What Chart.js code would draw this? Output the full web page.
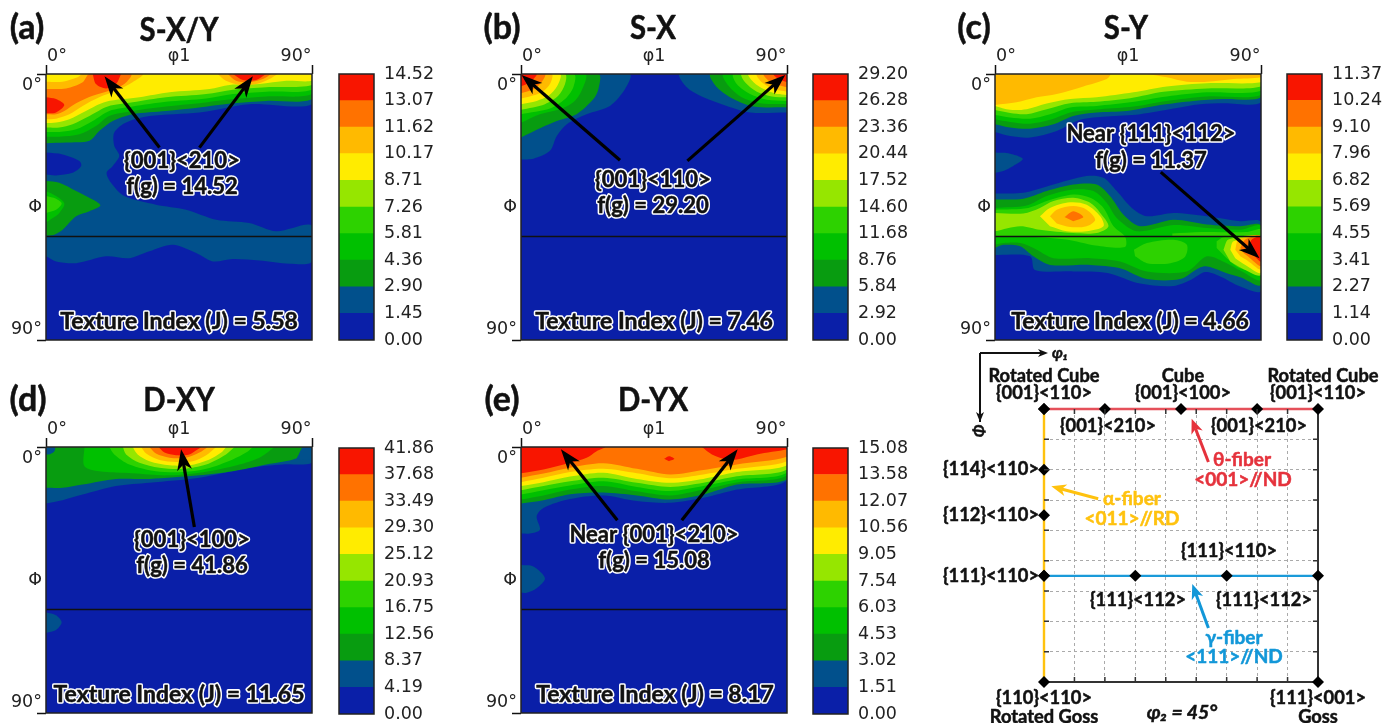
<!DOCTYPE html>
<html><head><meta charset="utf-8">
<style>html,body{margin:0;padding:0;background:#fff}body{filter:blur(0.35px);width:1392px;height:723px;overflow:hidden;position:relative}canvas{position:absolute;left:0;top:0;pointer-events:none}</style>
<script src="https://cdn.jsdelivr.net/npm/chart.js@4"></script>
</head><body>
<script>
const bandColors=['#0a1fa8','#01508c','#089c10','#00c000','#2dd200','#96e600','#ffec00','#ffba00','#ff7200','#f81500'];
const levelsA=[0,1.45,2.90,4.36,5.81,7.26,8.71,10.17,11.62,13.07,14.52];
const levelsB=[0,2.92,5.84,8.76,11.68,14.60,17.52,20.44,23.36,26.28,29.20];
const levelsC=[0,1.14,2.27,3.41,4.55,5.69,6.82,7.96,9.10,10.24,11.37];
const levelsD=[0,4.19,8.37,12.56,16.75,20.93,25.12,29.30,33.49,37.68,41.86];
const levelsE=[0,1.51,3.02,4.53,6.03,7.54,9.05,10.56,12.07,13.58,15.08];
const TOP=[0,0,90,0];
// contour regions: [band, phi1, PHI, phi1, PHI, ...]
const contoursA=[
[0,0,0,90,0,90,90,0,90],
[1,...TOP,90,10.2,68.8,10.2,51.9,13,35,14.2,27.1,16.4,23.1,19.8,23.1,24.3,24.8,27.7,22.6,31.1,20.5,33.4,22,36.8,26.5,41.3,37.2,44.2,47.4,45.9,57.6,49.3,68.8,50.4,77.9,53.2,90,51.3,90,63.4,82.4,64.2,72.2,63.1,63.2,62.6,56.4,63.4,50.8,60.6,42.9,57.8,35,60,28.2,62.3,20.3,61.7,10.2,64,3.4,63.4,0,61.7],
[0,0,26.6,5.6,27.2,11.3,29.4,11.9,31.1,9,33.4,3.4,34.3,0,34],
[2,0,36.2,4.5,36.8,10.2,39.6,15.8,42.5,18.4,44.5,14.7,46.4,10.2,48.1,5.6,52.7,2.8,54.4,0,54.7],
[3,0,39.6,3.4,41.3,6.2,43.8,4.5,47,2.3,48.7,0,50.2],
[4,0,41.3,3.4,42.2,5.3,43.8,3.4,45.9,0,47],
[2,...TOP,90,8.5,74.5,9.1,63.2,9.9,51.9,11.3,40.6,12.5,29.3,13.6,22.6,15.9,18,19.3,14.7,22.6,6.8,23.2,0,23.4],
[3,...TOP,90,6.8,74.5,7.6,63.2,8.5,51.9,9.9,40.6,11,29.3,12.5,21.4,14.2,16.9,17.6,11.3,20.4,4.5,21.2,0,21.2],
[4,...TOP,90,5.3,74.5,6,63.2,6.8,54.2,8.3,40.6,9.4,29.3,11,21.4,12.5,15.8,15.9,10.2,18.7,4.5,19.6,0,19.6],
[5,...TOP,90,3.7,74.5,4.5,63.2,5.3,54.2,6.8,40.6,7.9,29.3,9.6,20.9,11,14.7,14.2,9,17,4.5,18.1,0,18.1],
[6,...TOP,90,2.3,81.3,2.3,72.2,3.4,62.1,3.7,55.3,5.1,41.8,6.2,31.6,7.9,20.3,9.4,13.5,12.5,7.9,15.3,3.4,16.4,0,16.6],
[7,0,2.6,5.6,2.6,10.7,1.1,12.4,0,32.7,0,29.3,2.8,23.7,5.7,18,7.9,12.4,10.8,7.9,13.6,3.4,15.1,0,15.3],
[7,58.1,0,60.9,2.3,65.5,3.7,71.1,3.4,75.6,1.7,78.4,0],
[8,0,5.1,6.8,4.9,12.4,2.8,14.7,0,28.8,0,26.5,3.4,21.4,5.7,15.8,7.4,10.2,9.9,6.2,12.5,3.4,13.6,0,13.6],
[8,61.5,0,64.3,2.3,68.8,2.8,73.4,1.7,76.2,0],
[9,15.8,0,16.9,3.4,20.3,4.9,23.7,3.4,25.4,0],
[9,0,7.9,3.4,8.5,6.2,10.5,3.4,13,0,13.3],
[9,63.2,0,66.6,2,71.1,2,74.5,0]];
const contoursB=[
[0,0,0,90,0,90,90,0,90],
[1,0,0,36.7,0,35.2,5.1,30.1,10.8,22.2,13.6,15.5,17,12.1,21,9.8,26,4.2,28.7,0,28.9],
[2,0,0,26.2,0,26.2,5.1,24.5,8.5,18.8,13.6,12.1,15.9,7,18.1,0,21.5],
[3,0,0,21.7,0,20.5,5.7,17.7,9.6,13.2,11.9,6.4,13.6,0,16.5],
[4,0,0,17.9,0,17.7,4.5,14.9,8.5,9.8,11.7,0,13.6],
[5,0,0,14.9,0,14.9,3.4,12.6,7.4,8.1,10.2,0,12.1],
[6,0,0,13.2,0,12.3,4,9.3,7.4,5.3,9.1,0,10.2],
[7,0,0,10.4,0,9.8,3.4,7,6.2,3,7.6,0,8.3],
[8,0,0,8.1,0,7.3,2.3,4.7,4.9,0,6.5],
[9,0,0,5.3,0,4.2,1.7,1.9,3.4,0,4.2],
[1,90,0,53.8,0,56.1,4.5,61.7,7.9,69.6,10.8,77.5,13,90,13],
[2,90,0,64.2,0,66.3,4.5,71.9,8.5,78.7,11,90,11.3],
[3,90,0,68.5,0,70.2,4,74.7,7.9,80.9,9.9,90,10.2],
[4,90,0,71.9,0,73,3.4,77.5,6.8,83.2,8.7,90,9.1],
[5,90,0,74.7,0,75.8,2.8,79.8,6,84.9,7.6,90,7.9],
[6,90,0,77,0,78.7,2.8,82.1,5.1,86.6,6.8,90,7.1],
[7,90,0,79.8,0,81.5,2.8,85.4,5.1,90,6],
[8,90,0,82.1,0,84.3,2.6,90,4.5],
[9,90,0,85.4,0,87.1,1.7,90,2.8]];
const contoursC=[
[0,0,0,90,0,90,90,0,90],
[1,...TOP,90,9.6,77.3,9.9,69.4,10.2,60.4,11.7,49.1,13.6,37.8,14.4,28.8,15.5,20.9,19.3,11.9,21.5,5.1,21,0,19.6],
[1,0,26.6,4.5,26.8,9.4,28.7,6.2,31.1,2.8,32.8,0,33.4],
[2,...TOP,90,7.9,77.3,8.5,67.2,9.1,55.9,10.5,44.6,12.5,34.4,13,26.5,14.2,19.8,17,11.9,18.5,5.1,18.1,0,17],
[3,...TOP,90,7.1,71.7,7.6,58.1,9.1,46.8,11,35.6,11.9,26.5,12.8,18.6,15.5,11.9,16.8,5.1,16.2,0,15.3],
[4,...TOP,90,5.7,71.7,6.2,58.1,7.6,45.7,9.6,34.4,10.8,25.4,11.3,18.6,13.6,11.9,15.1,5.1,14.7,0,13.9],
[5,...TOP,90,4.2,71.7,4.9,57,6,45.7,8.2,34.4,9.4,25.4,9.9,17.5,11.9,10.7,13.6,5.1,13.2,0,12.2],
[6,...TOP,90,2.8,71.7,3.1,58.1,4.2,46.8,6.2,34.4,7.9,25.4,8.5,17.5,10,10.7,11.9,5.1,12.1,0,10.8],
[7,0,0,38.9,0,37.8,1.7,29.9,4.2,20.9,6.8,14.1,7.9,7.3,9.6,0,10.5],
[7,51.4,0,58.1,1.1,64.9,2.6,71.7,2.6,80.7,1.7,90,1.1,90,0],
[1,0,40.4,9.6,40.2,18.6,37.7,31,34.5,36.7,35.1,41.2,39.6,46.3,45.3,51.4,48.1,60.4,47,71.7,48.1,83,49.8,90,50.2,90,73.3,83,71.9,76.2,68.5,71.2,67,66.5,69.5,60.4,71.7,49.1,70.9,38.1,67.3,26.5,66.8,13.5,66.3,11.9,61.7,0,61.2],
[2,0,42.5,9.6,42.2,17.5,39.6,26.5,37.4,34.4,37.4,38.9,41.3,43.5,47.6,49.1,51.5,60.4,49.3,71.7,50.9,83,51.5,90,51.3,90,71.3,83,68.8,78.4,67.4,70.5,65.1,62.6,69.4,51.4,69.4,42.3,65.7,32.2,64.6,18.6,64.6,13,61.7,8.5,58.3,2.8,57.8,0,58.9],
[3,0,45.3,10.7,44.5,17.5,41.3,26.5,39.1,33.3,39.6,37.8,43.6,41.2,48.7,48,53.2,60.4,51.1,71.7,52.1,83,52.7,90,51.5,90,69.6,83,66.5,78.4,64,71.7,61.7,64.9,66.8,51.4,66.8,42.3,63.4,32.2,62.3,19.8,62.3,13,58.9,8.5,57.2,2.8,57.2,0,57.8],
[4,0,45.9,11.3,45.3,17.5,43,26.5,40.8,32.2,41.9,36.7,45.3,40.1,51.5,44,55,44,58.5,34,58,24,56,10,55,0,55],
[4,47,59.5,51.4,57.2,60.4,56.1,64.9,57.8,64.3,61.8,59.3,64,51.4,64,47.4,61.7],
[4,60,54,70,53.5,85,53.5,90,52.5,90,55,60,55],
[4,75,56.6,77.3,55.2,90,54.4,90,66.5,83,65.7,78.4,62.3,75,58.9],
[5,0,47,9.6,47.2,15.2,45.3,19.8,43,26.5,41.9,32.2,43.6,35.6,47,38.4,51.5,34.4,53.8,26.5,53.8,15.2,52.7,8.5,51.5,0,53.2],
[6,15.2,48.1,18.6,45.3,25.4,43.4,31,44.2,35.6,48.1,36.7,51.5,31,53.2,24.3,53.2,18.6,51.5],
[7,18.6,48.1,20.9,45.9,26.5,44.7,31,45.9,33.9,49.3,31,51.5,25.4,51.8,20.9,50.6],
[8,23.5,48.4,26.5,46.4,29.9,48.4,26.5,49.8],
[5,77.3,59.5,79,56,90,55.2,90,68,83.5,65.7,79.6,63.4],
[6,79.6,59.5,80.7,56.6,90,55,90,67.2,84.7,64.6,81.3,62.3],
[7,81.3,59.5,82.4,56,90,55,90,66,85.8,63.4,83,61.7],
[8,83,58.9,84.7,56,90,55,90,64.9,86.3,62.3,84.1,60.6],
[9,85.8,58.9,86.9,56,90,55.2,90,63.4,87.5,61.2]];
const contoursD=[
[0,0,0,90,0,90,90,0,90],
[1,...TOP,90,5.3,80.1,5.9,68.8,7,51.9,10.4,35,12.1,23.7,13.2,12.4,16.1,5.6,18,0,19.1],
[1,0,56,3.4,56.9,5.3,59.3,3.4,61.9,0,62.9],
[2,...TOP,90,0,87,0,85.2,3.6,74.5,5.9,63.2,8.2,51.9,9.6,35,10.8,23.7,10.8,12.4,12.7,5.6,13.8,0,13.8],
[1,0,0,3,0,2.8,1.5,1,2.5,0,2.5],
[1,90,0,87,0,85.5,2.5,85,4,90,4.5],
[3,13,0,13,6.5,18,8.2,29.3,8.9,40.6,9.6,51.9,8.7,63.2,6.5,72.2,3.6,77.3,0],
[4,21.4,0,23.1,2.5,28.2,5.9,37.2,8.2,46.3,8.5,54.2,7.4,63.2,4.2,67.7,1.9,70,0],
[5,26,0,27.1,2.5,31.6,5.3,38.4,7,46.3,7.4,54.2,5.9,60.9,2.5,63.8,0],
[6,29.3,0,31,2.5,35,4.8,41.8,6.2,48.5,6.2,55.3,4.2,59.3,1.9,60.9,0],
[7,32.2,0,33.9,2.2,38.4,4.4,44,5.1,49.7,4.8,54.2,2.8,57.6,0],
[8,35,0,37.2,2.2,41.8,3.6,47.4,3.6,51.9,1.9,54.7,0],
[9,38.1,0,40.1,1.9,44,2.8,48.5,2.5,51.4,0.8,52.5,0]];
const contoursE=[
[0,0,0,90,0,90,90,0,90],
[1,...TOP,90,11.3,73,14.4,61.7,17.2,50.5,18.9,39.2,18.3,27.9,16.4,16.6,17.6,7.6,20.6,5.3,23.4,6.4,28,3,29.3,0,29.3],
[1,0,39.9,4.2,40.4,8.1,44.4,5.3,47.8,1.9,49.3,0,49.3],
[2,...TOP,90,10.8,73,12.7,61.7,16.1,50.5,17.8,39.2,16.4,27.9,15.4,16.6,16,7.6,18,0,19.1],
[3,...TOP,90,9.6,73,12,61.7,14.4,50.5,16.4,39.2,15,27.9,13.2,16.6,14.4,7.6,16.4,0,17.8],
[4,...TOP,90,8.7,73,11,61.7,13.2,50.5,14.9,39.2,13.5,27.9,11.6,16.6,13,7.6,14.6,0,16.1],
[5,...TOP,90,7.6,73,9.9,61.7,12.1,50.5,13.5,39.2,12.1,27.9,10.4,16.6,11.6,7.6,13.2,0,14.6],
[6,...TOP,90,6.2,73,8.5,61.7,10.8,50.5,12.1,39.2,10.8,27.9,8.7,16.6,10,7.6,11.9,0,13.2],
[7,...TOP,90,4.8,73,7.4,61.7,9.3,50.5,10.6,39.2,8.9,27.9,7.4,16.6,8.5,7.6,10.4,0,11.9],
[8,...TOP,90,3.3,73,5.9,61.7,7.8,50.5,9.3,39.2,7.4,27.9,5.5,16.6,7,7.6,9,0,10.4],
[9,0,0,28.4,0,25.6,1.4,22.2,3.6,16.6,5.3,7.6,7.6,0,8.9],
[9,61.2,0,64.6,2.5,69.6,4.2,73,4.2,79.8,2.5,90,0.8,90,0],
[9,48.4,4,50.1,3.1,51.9,4,50.1,4.8]];
const arrowsA=[[38.4,24.9,19.8,0.8],[51.9,24.9,70,0.8]];
const arrowsB=[[33.5,29.2,0.2,0.3],[56.3,29.4,89.4,0.3]];
const arrowsC=[[56.1,33.2,89.5,62.3]];
const arrowsD=[[50.2,27.1,45.7,0.8]];
const arrowsE=[[32.6,24.8,13.5,0.8],[54.4,24.8,73.3,0.8]];
const mapTickX=[0,3.7,45,84.6,90], mapLabelX=['','0°','φ1','90°',''];
const mapTickY=[0,4,45,86.6,90], mapLabelY=['','0°','Φ','90°',''];
const sectionPhi=55;
// key diagram values
const keyTicks=[0,10,20,30,40,50,60,70,80,90];
const thetaFiberNodes=[0,20,45,70,90];
const alphaFiberNodes=[0,20,35,55,90];
const gammaFiberNodes=[0,30,60,90];
const gammaPhi=55;
const keyArrows=[['#e5323c',54,17.5,48.5,3.2],['#ffc20e',17.8,29.6,2.4,25.5],['#1297d8',54,72.2,48.7,57.7]];

const W=1392,H=723,BODY='Lato, "Open Sans", sans-serif',TICK='"DejaVu Sans", sans-serif';
const toXY=a=>{const o=[];for(let i=0;i<a.length;i+=2)o.push({x:a[i],y:a[i+1]});return o};
function newCanvas(){const c=document.createElement('canvas');c.width=W;c.height=H;c.style.width=W+'px';c.style.height=H+'px';document.body.appendChild(c);return c.getContext('2d')}
function drawText(ctx,t){
  const [s,x,y,size,color,outline,style,squeeze]=t;
  ctx.save();ctx.font=(style||'bold')+' '+size+'px '+BODY;ctx.textAlign='center';ctx.textBaseline='middle';
  const mw=ctx.measureText(s).width*(squeeze||1);
  if(outline){ctx.strokeStyle='#fff';ctx.lineWidth=outline;ctx.lineJoin='round';ctx.strokeText(s,x,y,mw)}
  ctx.fillStyle=color||'#111';ctx.strokeStyle=color||'#111';ctx.lineWidth=0.5;ctx.lineJoin='round';
  ctx.strokeText(s,x,y,mw);ctx.fillText(s,x,y,mw);ctx.restore();
}
function drawArrow(ctx,x1,y1,x2,y2,color,lw,headL,headW){
  const a=Math.atan2(y2-y1,x2-x1);
  ctx.save();ctx.translate(x2,y2);ctx.rotate(a);ctx.fillStyle=color;ctx.strokeStyle=color;ctx.lineWidth=lw;
  ctx.beginPath();ctx.moveTo(-Math.hypot(x2-x1,y2-y1),0);ctx.lineTo(-headL*0.7,0);ctx.stroke();
  ctx.beginPath();ctx.moveTo(0,0);ctx.lineTo(-headL,headW/2);ctx.lineTo(-headL*0.72,0);ctx.lineTo(-headL,-headW/2);ctx.closePath();ctx.fill();ctx.restore();
}
const noExtras={legend:{display:false},tooltip:{enabled:false}};
function mapChart(left,top,contours,arrows,texts){
  const axW=50,axH=40,pw=266,ph=266;
  const tickOpt=(labels)=>({autoSkip:false,maxRotation:0,minRotation:0,color:'#222',font:{family:TICK,size:17.5},callback:(v,i)=>labels[i]});
  const markColor=ctx=>(ctx.tick&&(ctx.tick.value===0||ctx.tick.value===90))?'#111':'rgba(0,0,0,0)';
  const sets=contours.map((c,i)=>({data:toXY(c.slice(1)),backgroundColor:bandColors[c[0]],fill:'shape',showLine:true,tension:0.3,borderWidth:0,pointRadius:0,order:-i}));
  sets.push({data:[{x:0,y:sectionPhi},{x:90,y:sectionPhi}],showLine:true,borderColor:'#111',borderWidth:1.5,pointRadius:0,order:-500,clip:false});
  sets.push({data:[{x:0,y:0},{x:90,y:0},{x:90,y:90},{x:0,y:90},{x:0,y:0}],showLine:true,borderColor:'#222',borderWidth:1.5,pointRadius:0,order:-501,clip:false});
  new Chart(newCanvas(),{type:'scatter',data:{datasets:sets},
    options:{responsive:false,animation:false,events:[],
      layout:{padding:{left:left-axW,top:top-axH,right:W-left-pw,bottom:H-top-ph}},
      plugins:noExtras,
      scales:{
        x:{type:'linear',position:'top',min:0,max:90,afterFit:s=>{s.height=axH},afterBuildTicks:s=>{s.ticks=mapTickX.map(v=>({value:v}))},
           grid:{drawOnChartArea:false,tickLength:9,tickColor:markColor,tickWidth:1.5},border:{display:false},ticks:{...tickOpt(mapLabelX),padding:-2}},
        y:{type:'linear',position:'left',reverse:true,min:0,max:90,afterFit:s=>{s.width=axW;s.paddingTop=0;s.paddingBottom=0},afterBuildTicks:s=>{s.ticks=mapTickY.map(v=>({value:v}))},
           grid:{drawOnChartArea:false,tickLength:9,tickColor:markColor,tickWidth:1.5},border:{display:false},ticks:{...tickOpt(mapLabelY),padding:-5}}
      }},
    plugins:[{id:'notes',afterDraw(ch){const c=ch.ctx,sx=ch.scales.x,sy=ch.scales.y;
      arrows.forEach(a=>drawArrow(c,sx.getPixelForValue(a[0]),sy.getPixelForValue(a[1]),sx.getPixelForValue(a[2]),sy.getPixelForValue(a[3]),'#000',3.2,21,15));
      texts.forEach(t=>drawText(c,t));}}]});
}
function colorBar(left,top,levels){
  const bw=35,bh=266,axW=70;
  const sets=bandColors.map((col,i)=>({data:[[levels[i],levels[i+1]]],backgroundColor:col,borderWidth:0,barPercentage:1,categoryPercentage:1,grouped:false}));
  new Chart(newCanvas(),{type:'bar',data:{labels:['f(g)'],datasets:sets},
    options:{responsive:false,animation:false,events:[],
      layout:{padding:{left:left,top:top,right:W-left-bw-axW,bottom:H-top-bh}},
      plugins:noExtras,
      scales:{x:{display:false},
        y:{position:'right',min:0,max:levels[10],afterFit:s=>{s.width=axW;s.paddingTop=0;s.paddingBottom=0},afterBuildTicks:s=>{s.ticks=levels.map(v=>({value:v}))},
           grid:{display:false},border:{display:false},
           ticks:{autoSkip:false,padding:2,color:'#222',font:{family:TICK,size:17.5},callback:v=>v.toFixed(2)}}}},
    plugins:[{id:'frame',afterDraw(ch){const c=ch.ctx,a=ch.chartArea;c.save();c.strokeStyle='#222';c.lineWidth=1.5;c.strokeRect(a.left,a.top,a.right-a.left,a.bottom-a.top);c.restore();}}]});
}
const T=23,OUT=3.6,INK='#111';
const title=(s,x,y)=>[s,x,y,33,INK,0,'bold',0.89];
const panel=(s,x,y)=>[s,x,y,34,INK,0,'bold',1];
const note=(s,x,y)=>[s,x,y,T,INK,OUT,'bold',0.96];
const index=(s,x,y)=>[s,x,y,T,INK,OUT,'bold',1];
mapChart(46,74,contoursA,arrowsA,[panel('(a)',27,28),title('S-X/Y',179,30),note('{001}<210>',182,161),note('f(g) = 14.52',182,187),index('Texture Index (J) = 5.58',179,322)]);
colorBar(339,74,levelsA);
mapChart(521,74,contoursB,arrowsB,[panel('(b)',502,28),title('S-X',653,28),note('{001}<110>',653,180),note('f(g) = 29.20',653,206),index('Texture Index (J) = 7.46',654,322)]);
colorBar(813,74,levelsB);
mapChart(995,74,contoursC,arrowsC,[panel('(c)',974,28),title('S-Y',1126,28),note('Near {111}<112>',1151,134),note('f(g) = 11.37',1151,161),index('Texture Index (J) = 4.66',1130,322)]);
colorBar(1287,74,levelsC);
mapChart(46,447,contoursD,arrowsD,[panel('(d)',28,400),title('D-XY',179,400),note('{001}<100>',192,540),note('f(g) = 41.86',192,566),index('Texture Index (J) = 11.65',179,695)]);
colorBar(339,448,levelsD);
mapChart(521,447,contoursE,arrowsE,[panel('(e)',502,400),title('D-YX',653,400),note('Near {001}<210>',654,535),note('f(g) = 15.08',654,561),index('Texture Index (J) = 8.17',655,695)]);
colorBar(813,448,levelsE);

// key diagram
const K=18.3,KF=19;
const keyTexts=[
['Rotated Cube',1044,376,K],['{001}<110>',1044,393,K],['Cube',1183,376,K],['{001}<100>',1183,393,K],['Rotated Cube',1323,376,K],['{001}<110>',1318,393,K],
['{001}<210>',1108,426,K],['{001}<210>',1259,426,K],['{114}<110>',991,469,K],['{112}<110>',991,515,K],['{111}<110>',991,576,K],
['{111}<110>',1229,551,K],['{111}<112>',1138,600,K],['{111}<112>',1264,600,K],
['θ-fiber',1242,460,KF,'#e5323c'],['<001>//ND',1243,480,KF,'#e5323c'],['α-fiber',1132,499,KF,'#ffc20e'],['<011>//RD',1132,519,KF,'#ffc20e'],
['γ-fiber',1234,638,KF,'#1297d8'],['<111>//ND',1234,657,KF,'#1297d8'],
['{110}<110>',1044,698,K],['Rotated Goss',1044,717,K],['{111}<001>',1318,698,K],['Goss',1318,717,K],
['φ₂ = 45°',1182,713,K+1,'#111',0,'italic bold'],['φ₁',1060,353,15,'#111',0,'italic bold']];
const line=(data,color,w,o)=>({data,showLine:true,borderColor:color,borderWidth:w,pointRadius:0,order:o,clip:false});
new Chart(newCanvas(),{type:'scatter',data:{datasets:[
  line([{x:90,y:0},{x:90,y:90},{x:0,y:90}],'#333',2,5),
  line([{x:0,y:0},{x:90,y:0}],'#e5505a',2.4,4),
  line([{x:0,y:0},{x:0,y:90}],'#ffc20e',2.4,4),
  line([{x:0,y:gammaPhi},{x:90,y:gammaPhi}],'#1a9ad9',2.4,4),
  {data:[...thetaFiberNodes.map(x=>({x,y:0})),...alphaFiberNodes.map(y=>({x:0,y})),...gammaFiberNodes.map(x=>({x,y:gammaPhi})),{x:90,y:90}],
   pointStyle:'rectRot',pointRadius:6,backgroundColor:'#000',borderWidth:0,showLine:false,order:1,clip:false}
]},options:{responsive:false,animation:false,events:[],
  layout:{padding:{left:1044,top:409,right:W-1318,bottom:H-682}},plugins:noExtras,
  scales:{x:{type:'linear',position:'top',min:0,max:90,afterBuildTicks:s=>{s.ticks=keyTicks.map(v=>({value:v}))},afterFit:s=>{s.height=0},
     grid:{color:'#aaa',lineWidth:1,drawTicks:false},border:{display:false,dash:[3,3]},ticks:{display:false}},
    y:{type:'linear',reverse:true,min:0,max:90,afterBuildTicks:s=>{s.ticks=keyTicks.map(v=>({value:v}))},afterFit:s=>{s.width=0},
     grid:{color:'#aaa',lineWidth:1,drawTicks:false},border:{display:false,dash:[3,3]},ticks:{display:false}}}},
 plugins:[{id:'keyNotes',afterDraw(ch){const c=ch.ctx,sx=ch.scales.x,sy=ch.scales.y;
   c.save();c.strokeStyle='#333';c.lineWidth=1.5;
   keyTicks.slice(1,-1).forEach(v=>{const px=sx.getPixelForValue(v),py=sy.getPixelForValue(v),a=ch.chartArea;
     c.beginPath();c.moveTo(px,a.top);c.lineTo(px,a.top+5);c.moveTo(px,a.bottom);c.lineTo(px,a.bottom-5);
     c.moveTo(a.left,py);c.lineTo(a.left+5,py);c.moveTo(a.right,py);c.lineTo(a.right-5,py);c.stroke();});
   c.restore();
   keyArrows.forEach(a=>drawArrow(c,sx.getPixelForValue(a[1]),sy.getPixelForValue(a[2]),sx.getPixelForValue(a[3]),sy.getPixelForValue(a[4]),a[0],3,15,12));
   drawArrow(c,980,353,1048,353,'#111',2,10,8);
   c.strokeStyle='#111';c.lineWidth=2;c.beginPath();c.moveTo(980,353);c.lineTo(980,422);c.stroke();
   drawArrow(c,980,400,980,422,'#111',2,10,8);
   keyTexts.forEach(t=>drawText(c,t));
   c.save();c.translate(980,431);c.rotate(-Math.PI/2);drawText(c,['Φ',0,0,16,'#111',0,'italic bold']);c.restore();
 }}]});
</script>
</body></html>
